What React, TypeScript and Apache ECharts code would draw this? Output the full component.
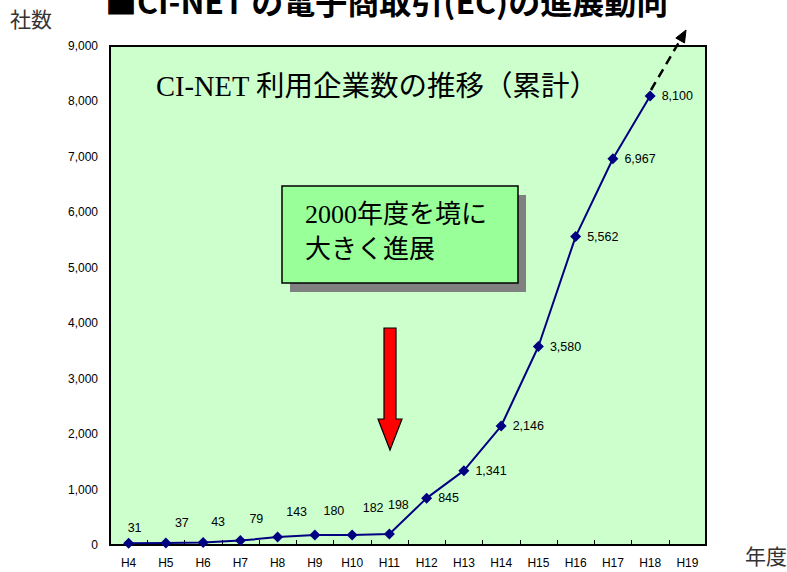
import React, { useEffect, useRef } from "react";
import * as echarts from "echarts";

const categories = ["H4", "H5", "H6", "H7", "H8", "H9", "H10", "H11", "H12", "H13", "H14", "H15", "H16", "H17", "H18", "H19"];
const companies: (number | null)[] = [31, 37, 43, 79, 143, 180, 182, 198, 845, 1341, 2146, 3580, 5562, 6967, 8100, null];
const earlyLabelOffsets: [number, number][] = [[6, 0], [16, -4], [15, -5], [16, -6], [19, -9], [19, -8], [21, -11], [9, -13]];

const chartTitle = "■CI-NET の電子商取引(EC)の進展動向";
const subTitle = "CI-NET 利用企業数の推移（累計）";
const boxLines = ["2000年度を境に", "大きく進展"];
const yName = "社数";
const xName = "年度";

const SERIF = '"Liberation Serif", "DejaVu Serif", "Noto Sans CJK JP", serif';
const SANS = '"Liberation Sans", Arial, "Noto Sans CJK JP", sans-serif';

export default function App() {
  const ref = useRef<HTMLDivElement>(null);
  useEffect(() => {
    if (!ref.current) return;
    const chart = echarts.init(ref.current, null, { renderer: "svg" });
    const data = companies.map((v, i) => {
      if (v == null) return null;
      if (i < earlyLabelOffsets.length) {
        return { value: v, label: { position: "top", distance: 4, offset: earlyLabelOffsets[i] } };
      }
      return { value: v };
    });
    chart.setOption({
      animation: false,
      backgroundColor: "#ffffff",
      grid: {
        left: 110,
        top: 46,
        right: 81,
        bottom: 27,
        show: true,
        backgroundColor: "#ccffcc",
        borderColor: "#000000",
        borderWidth: 2,
      },
      xAxis: {
        type: "category",
        data: categories,
        boundaryGap: true,
        axisLine: { show: true, lineStyle: { color: "#000", width: 2 } },
        axisTick: { show: true, inside: true, length: 5, lineStyle: { color: "#000", width: 1 } },
        axisLabel: { color: "#000", fontFamily: SANS, fontSize: 12, margin: 12, interval: 0 },
        splitLine: { show: false },
      },
      yAxis: {
        type: "value",
        min: 0,
        max: 9000,
        interval: 1000,
        axisLine: { show: true, lineStyle: { color: "#000", width: 2 } },
        axisTick: { show: false },
        splitLine: { show: false },
        axisLabel: {
          color: "#000",
          fontFamily: SANS,
          fontSize: 12,
          margin: 12,
          formatter: (v: number) => v.toLocaleString("en-US"),
        },
      },
      series: [
        {
          type: "line",
          data,
          symbol: "diamond",
          symbolSize: 11,
          lineStyle: { color: "#000080", width: 2 },
          itemStyle: { color: "#000080" },
          label: {
            show: true,
            position: "right",
            distance: 6,
            color: "#000",
            fontFamily: SANS,
            fontSize: 12.5,
            formatter: (p: any) => Number(p.value).toLocaleString("en-US"),
          },
        },
      ],
      graphic: [
        {
          type: "text",
          left: 105,
          top: -16,
          style: { text: chartTitle, font: `bold 32px ${'"Noto Sans CJK JP", sans-serif'}`, fill: "#000" },
        },
        {
          type: "text",
          left: 10,
          top: 9,
          style: { text: yName, font: `21px ${SERIF}`, fill: "#333" },
        },
        {
          type: "text",
          left: 745,
          top: 546,
          style: { text: xName, font: `21px ${SERIF}`, fill: "#333" },
        },
        {
          type: "text",
          x: 156,
          y: 86,
          style: { text: subTitle, font: `28.5px ${SERIF}`, fill: "#000", verticalAlign: "middle" },
        },
        {
          type: "rect",
          shape: { x: 290, y: 195, width: 236, height: 97 },
          style: { fill: "#808080" },
        },
        {
          type: "rect",
          shape: { x: 282, y: 186, width: 236, height: 97 },
          style: { fill: "#99ff99", stroke: "#000", lineWidth: 1.5 },
        },
        {
          type: "text",
          x: 305,
          y: 197,
          style: { text: boxLines.join("\n"), font: `26px ${SERIF}`, lineHeight: 35, fill: "#000" },
        },
        {
          type: "polygon",
          shape: {
            points: [
              [384, 328],
              [396, 328],
              [396, 419],
              [402, 419],
              [390, 450],
              [378, 419],
              [384, 419],
            ],
          },
          style: { fill: "#ff0000", stroke: "#000", lineWidth: 1.2 },
        },
        {
          type: "line",
          shape: { x1: 651, y1: 90, x2: 680, y2: 40.5 },
          style: { stroke: "#000", lineWidth: 2.5, lineDash: [9, 6] },
        },
        {
          type: "polygon",
          shape: {
            points: [
              [686, 30],
              [684.5, 43],
              [675.8, 38],
            ],
          },
          style: { fill: "#000", stroke: "#000", lineWidth: 1 },
        },
      ],
    });
    return () => chart.dispose();
  }, []);
  return <div ref={ref} style={{ position: "fixed", left: 0, top: 0, width: 787, height: 572 }} />;
}
